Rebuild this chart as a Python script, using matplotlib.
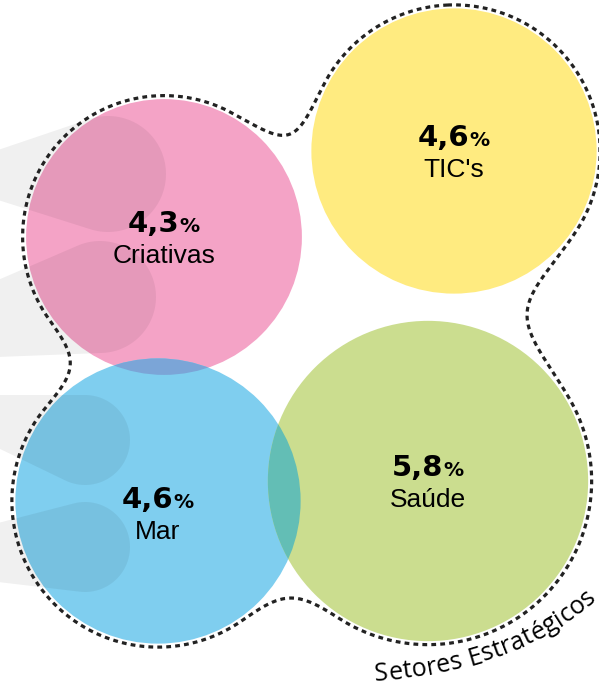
import numpy as np
import matplotlib
matplotlib.use("Agg")
import matplotlib.pyplot as plt
from matplotlib.patches import Circle, Polygon
from matplotlib.font_manager import FontProperties

# sector growth values (%)
setores = ["Criativas", "TIC's", "Mar", "Saúde"]
valores = [4.3, 4.6, 4.6, 5.8]
rotulos = ["4,3", "4,6", "4,6", "5,8"]
cores = ["#F4A3C6", "#FFEB80", "#7FCEEF", "#CBDD8F"]
titulo = "Setores Estratégicos"

# layout in pixel units (y grows downwards)
centros = [(164, 237), (454, 151), (158, 501), (428, 481)]
label_dy = [0, 0, 12, 0]
escala = 66.5
raios = [escala * np.sqrt(v) for v in valores]

W, H = 599, 694
fig = plt.figure(figsize=(W / 100, H / 100), dpi=100)
ax = fig.add_axes([0, 0, 1, 1])
ax.set_xlim(0, W)
ax.set_ylim(H, 0)
ax.axis("off")

# bubbles
patches = []
for (cx, cy), r, c in zip(centros, raios, cores):
    p = Circle((cx, cy), r, facecolor=c, edgecolor="none", zorder=2)
    ax.add_patch(p)
    patches.append(p)

# overlapping areas
for a, b, c in [(0, 2, "#7BA5D7"), (2, 3, "#63BEB5")]:
    o = Circle(centros[b], raios[b], facecolor=c, edgecolor="none", zorder=3)
    ax.add_patch(o)
    o.set_clip_path(patches[a])


def hull(pts):
    pts = sorted(map(tuple, pts))
    def half(seq):
        out = []
        for p in seq:
            while len(out) >= 2 and ((out[-1][0] - out[-2][0]) * (p[1] - out[-2][1])
                                     - (out[-1][1] - out[-2][1]) * (p[0] - out[-2][0])) <= 0:
                out.pop()
            out.append(p)
        return out
    lo = half(pts)
    up = half(pts[::-1])
    return np.array(lo[:-1] + up[:-1])


# grey swooshes on the left
t = np.linspace(0, 2 * np.pi, 120)
swooshes = [((108, 174), 58, 150, 200),
            ((100, 297), 56, 280, 357),
            ((85, 440), 45, 395, 448),
            ((85, 547), 45, 523, 582)]
for (sx, sy), sr, y1, y2 in swooshes:
    pts = np.column_stack([sx + sr * np.cos(t), sy + sr * np.sin(t)])
    pts = np.vstack([pts, [[-2, y1], [-2, y2]]])
    ax.add_patch(Polygon(hull(pts), closed=True, facecolor="black",
                         edgecolor="none", alpha=0.06, zorder=4))

# dashed outline: smooth union of the bubbles
xs = np.arange(-20, W + 20, 1.0)
ys = np.arange(-20, H + 20, 1.0)
X, Y = np.meshgrid(xs, ys)
d = [np.hypot(X - cx, Y - cy) - r for (cx, cy), r in zip(centros, raios)]


def smin(a, b, k):
    h = np.clip(k - np.abs(a - b), 0, None) / k
    return np.minimum(a, b) - h * h * k / 4


pares = [(0, 1, 80), (1, 3, 126), (3, 2, 70), (2, 0, 66)]
F = np.min([smin(d[i], d[j], k) for i, j, k in pares], axis=0)
cs = ax.contour(X, Y, F, levels=[3.5])
seg = max(cs.allsegs[0], key=len)
cs.remove()
ax.plot(seg[:, 0], seg[:, 1], color="#222222", lw=2.3,
        linestyle=(0, (1.5, 1.3)), zorder=5)

# labels
renderer = fig.canvas.get_renderer()
fp_num = FontProperties(family="DejaVu Sans", weight="bold", size=21)
fp_pct = FontProperties(family="DejaVu Sans", weight="bold", size=14.5)
fp_nome = FontProperties(family="Liberation Sans", size=19)


def largura(s, fp):
    return renderer.get_text_width_height_descent(s, fp, ismath=False)[0]


for (cx, cy), dy, num, nome in zip(centros, label_dy, rotulos, setores):
    cy = cy + dy
    wn = largura(num, fp_num)
    wp = largura("%", fp_pct)
    x0 = cx - (wn + wp) / 2
    ax.text(x0, cy - 5, num, fontproperties=fp_num, ha="left", va="baseline",
            color="black", zorder=6)
    ax.text(x0 + wn, cy - 5, "%", fontproperties=fp_pct, ha="left",
            va="baseline", color="black", zorder=6)
    ax.text(cx, cy + 26, nome, fontproperties=fp_nome, ha="center",
            va="baseline", color="black", zorder=6)

# curved caption along a cubic bezier
fp_tit = FontProperties(family="Open Sans", size=18)
P = np.array([[375, 681], [455, 676], [545, 652], [606, 590]], dtype=float)
u = np.linspace(0, 1, 2000)[:, None]
curva = ((1 - u) ** 3 * P[0] + 3 * (1 - u) ** 2 * u * P[1]
         + 3 * (1 - u) * u ** 2 * P[2] + u ** 3 * P[3])
tang = np.gradient(curva, axis=0)
arco = np.concatenate([[0], np.cumsum(np.hypot(*np.diff(curva, axis=0).T))])
wl = largura("l", fp_tit)
espaco = 0.3
for i, ch in enumerate(titulo):
    if ch == " ":
        continue
    esq = largura(titulo[:i] + "l", fp_tit) - wl if i else 0
    s = esq + largura(ch, fp_tit) / 2 + i * espaco
    j = min(np.searchsorted(arco, s), len(arco) - 1)
    ang = np.degrees(np.arctan2(-tang[j, 1], tang[j, 0]))
    ax.text(curva[j, 0], curva[j, 1], ch, fontproperties=fp_tit, rotation=ang,
            rotation_mode="anchor", ha="center", va="baseline", color="black",
            zorder=6)

fig.savefig("out.png", dpi=100)
